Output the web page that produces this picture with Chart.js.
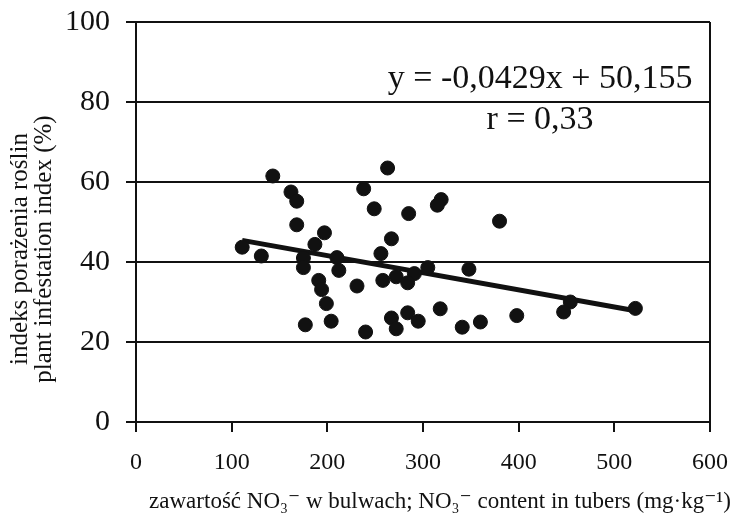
<!DOCTYPE html>
<html>
<head>
<meta charset="utf-8">
<script src="https://cdn.jsdelivr.net/npm/chart.js@4/dist/chart.umd.min.js"></script>
<style>
  body { margin: 0; background: #fff; }
  #wrap { width: 731px; height: 520px; }
</style>
</head>
<body>
<div id="wrap"><canvas id="scatterChart" width="731" height="520"></canvas></div>
<script>
// NO3- content in tubers (mg/kg) vs plant infestation index (%)
const nitrate = [143, 162, 168, 168, 197, 187, 111, 131, 175, 175, 210, 212, 191, 194, 199, 177, 204,
                 263, 238, 249, 285, 319, 315, 380, 267, 256, 305, 348, 291, 272, 258, 284, 231,
                 318, 284, 267, 272, 295, 240, 341, 360, 398, 454, 447, 522];
const infestation = [61.5, 57.5, 55.2, 49.3, 47.3, 44.4, 43.7, 41.5, 41.0, 38.6, 41.1, 37.9, 35.4, 33.1, 29.6, 24.3, 25.2,
                     63.5, 58.3, 53.3, 52.1, 55.6, 54.2, 50.2, 45.8, 42.1, 38.6, 38.2, 37.1, 36.3, 35.4, 34.8, 34.0,
                     28.3, 27.3, 26.0, 23.3, 25.2, 22.5, 23.7, 25.0, 26.6, 30.0, 27.5, 28.4];
// regression line end points
const trendX = [111, 522];
const trendY = [45.4, 27.8];
const xTicks = [0, 100, 200, 300, 400, 500, 600];
const yTicks = [0, 20, 40, 60, 80, 100];
const equation = 'y = -0,0429x + 50,155';
const rText = 'r = 0,33';
const xTitle = 'zawartość NO₃⁻ w bulwach; NO₃⁻ content in tubers (mg·kg⁻¹)';
const yTitle = ['indeks porażenia roślin', 'plant infestation index (%)'];

const ink = '#111';
const serif = '"Liberation Serif", "DejaVu Serif", serif';

// equation, r and axis titles
const notes = {
    id: 'notes',
    afterDatasetsDraw(chart) {
        const { ctx, chartArea } = chart;
        const cx = chartArea.left + chartArea.width * 0.704;
        ctx.save();
        ctx.fillStyle = ink;
        ctx.textAlign = 'center';
        ctx.textBaseline = 'alphabetic';
        ctx.font = '34px ' + serif;
        ctx.fillText(equation, cx, chartArea.top + 66);
        ctx.fillText(rText, cx, chartArea.top + 107);

        ctx.font = '23px ' + serif;
        ctx.textBaseline = 'middle';
        ctx.fillText(xTitle, 440, 502);

        ctx.translate(0, 249);
        ctx.rotate(-Math.PI / 2);
        ctx.font = '25px ' + serif;
        ctx.fillText(yTitle[0], 0, 20);
        ctx.fillText(yTitle[1], 0, 44);
        ctx.restore();
    }
};

new Chart(document.getElementById('scatterChart'), {
    type: 'scatter',
    data: {
        datasets: [{
            data: nitrate.map((x, i) => ({ x, y: infestation[i] })),
            backgroundColor: ink,
            borderColor: ink,
            pointRadius: 7,
            pointHoverRadius: 7
        }, {
            type: 'line',
            data: trendX.map((x, i) => ({ x, y: trendY[i] })),
            borderColor: ink,
            borderWidth: 5,
            pointRadius: 0,
            fill: false
        }]
    },
    options: {
        responsive: false,
        animation: false,
        layout: { padding: { top: 22, right: 21, left: 0, bottom: 0 } },
        plugins: { legend: { display: false }, tooltip: { enabled: false } },
        scales: {
            x: {
                type: 'linear',
                min: 0, max: 600,
                afterBuildTicks: s => { s.ticks = xTicks.map(v => ({ value: v })); },
                afterFit: s => { s.height = 98; s.paddingLeft = 0; s.paddingRight = 0; },
                grid: {
                    color: c => (c.tick && c.tick.value === 600) ? ink : 'rgba(0,0,0,0)',
                    tickColor: ink,
                    lineWidth: 2,
                    tickLength: 10
                },
                border: { color: ink, width: 2 },
                ticks: { color: ink, padding: 16, font: { family: serif, size: 24 } }
            },
            y: {
                min: 0, max: 100,
                afterBuildTicks: s => { s.ticks = yTicks.map(v => ({ value: v })); },
                afterFit: s => { s.width = 136; s.paddingTop = 0; s.paddingBottom = 0; },
                grid: { color: ink, lineWidth: 2, tickLength: 10 },
                border: { color: ink, width: 2 },
                ticks: { color: ink, padding: 16, font: { family: serif, size: 30 } }
            }
        }
    },
    plugins: [notes]
});
</script>
</body>
</html>
